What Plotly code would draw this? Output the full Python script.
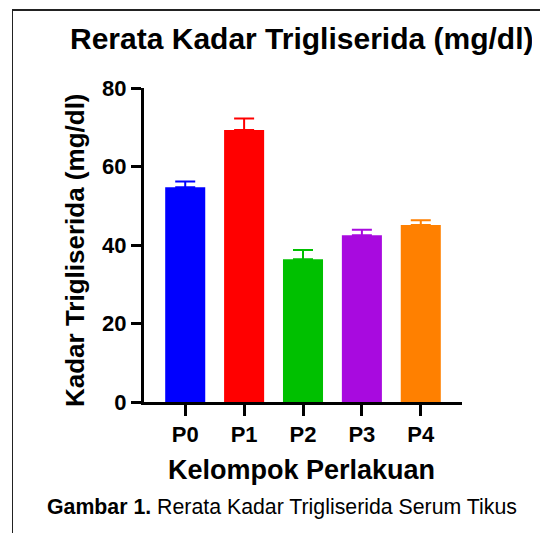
import plotly.graph_objects as go

categories = ["P0", "P1", "P2", "P3", "P4"]
means = [54.7, 69.3, 36.4, 42.5, 45.1]
errors = [1.5, 2.9, 2.3, 1.4, 1.2]
colors = ["#0000FF", "#FF0000", "#00C000", "#A80ADF", "#FF8000"]
y_ticks = [0, 20, 40, 60, 80]

FONT = "Arial, 'Liberation Sans', sans-serif"

fig = go.Figure()
for c, m, e, col in zip(categories, means, errors, colors):
    fig.add_trace(go.Bar(
        x=[c], y=[m], marker=dict(color=col, line=dict(width=0)),
        width=0.68,
        error_y=dict(type="data", array=[e], arrayminus=[0], symmetric=False,
                     color=col, thickness=2, width=10),
        showlegend=False,
    ))

# page body adds 8px offset; work in figure coordinates (window coords - 8)
W, H = 532, 525
L, R, T, B = 136, 78, 80, 131
pw, ph = W - L - R, H - T - B

def px(x):
    return (x - 8 - L) / pw

def py(y):
    return (H - B - (y - 8)) / ph

fig.update_layout(
    width=W, height=H,
    margin=dict(l=L, r=R, t=T, b=B, pad=0, autoexpand=False),
    paper_bgcolor="white", plot_bgcolor="white",
    font=dict(family=FONT, color="black"),
    xaxis=dict(
        range=[-0.7, 4.7], showline=True, linecolor="black", linewidth=3,
        ticks="outside", ticklen=11, tickwidth=3, tickcolor="black",
        tickfont=dict(size=22, family=FONT, weight="bold"),
        showgrid=False, zeroline=False, fixedrange=True, automargin=False,
    ),
    yaxis=dict(
        range=[0, 80], tickvals=y_ticks, showline=True, linecolor="black", linewidth=3,
        ticks="outside", ticklen=10, tickwidth=3, tickcolor="black",
        tickfont=dict(size=22, family=FONT, weight="bold"),
        showgrid=False, zeroline=False, fixedrange=True, automargin=False,
    ),
    annotations=[
        dict(text="<b>Rerata Kadar Trigliserida (mg/dl)</b>", x=px(301.5), y=py(39),
             xref="paper", yref="paper", xanchor="center", yanchor="middle",
             showarrow=False, font=dict(size=30, family=FONT)),
        dict(text="<b>Kadar Trigliserida (mg/dl)</b>", x=px(75), y=py(250),
             xref="paper", yref="paper", xanchor="center", yanchor="middle",
             textangle=-90, showarrow=False, font=dict(size=26, family=FONT)),
        dict(text="<b>Kelompok Perlakuan</b>", x=px(301.5), y=py(470),
             xref="paper", yref="paper", xanchor="center", yanchor="middle",
             showarrow=False, font=dict(size=27, family=FONT)),
        dict(text="<b>Gambar 1.</b> Rerata Kadar Trigliserida Serum Tikus", x=px(282), y=py(507),
             xref="paper", yref="paper", xanchor="center", yanchor="middle",
             showarrow=False, font=dict(size=21.3, family=FONT)),
    ],
)

# frame along the top and left edges of the figure (as in the reference)
frame_js = """
var f = document.createElement('div');
f.style.cssText = 'position:fixed;left:12px;top:9px;width:700px;height:700px;' +
  'border-top:2px solid #222;border-left:1.5px solid #222;pointer-events:none;z-index:10;';
document.body.appendChild(f);
"""

fig.write_html("out.html", post_script=frame_js)
